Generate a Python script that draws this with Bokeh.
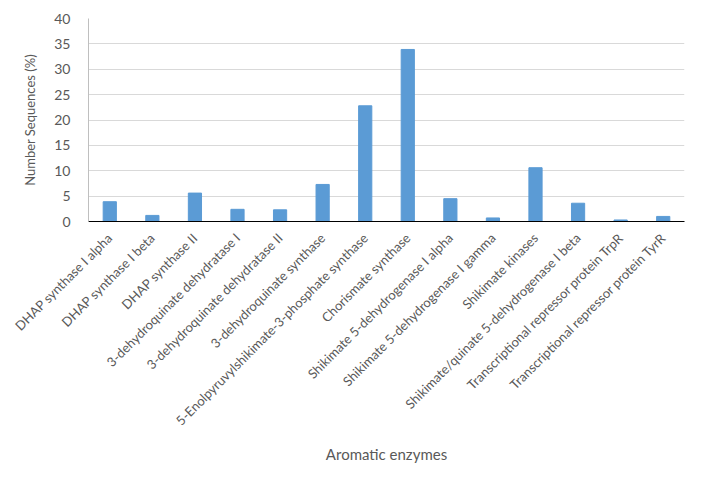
import math
from bokeh.plotting import figure
from bokeh.models import Range1d, FixedTicker
from bokeh.embed import file_html
from bokeh.resources import INLINE

enzymes = [
    "DHAP synthase I alpha",
    "DHAP synthase I beta",
    "DHAP synthase II",
    "3-dehydroquinate dehydratase I",
    "3-dehydroquinate dehydratase II",
    "3-dehydroquinate synthase",
    "5-Enolpyruvylshikimate-3-phosphate synthase",
    "Chorismate synthase",
    "Shikimate 5-dehydrogenase I alpha",
    "Shikimate 5-dehydrogenase I gamma",
    "Shikimate kinases",
    "Shikimate/quinate 5-dehydrogenase I beta",
    "Transcriptional repressor protein TrpR",
    "Transcriptional repressor protein TyrR",
]
percent = [3.9, 1.2, 5.6, 2.4, 2.3, 7.3, 22.8, 33.9, 4.5, 0.7, 10.6, 3.6, 0.3, 1.0]
y_ticks = [0, 5, 10, 15, 20, 25, 30, 35, 40]

FONT = "Lato"
GREY = "#595959"

p = figure(x_range=enzymes, y_range=Range1d(0, 40), width=695, height=475,
           output_backend="svg", toolbar_location=None,
           min_border_left=88, min_border_right=11, min_border_top=18, min_border_bottom=254)
p.vbar(x=enzymes, top=percent, width=0.31, color="#5B9BD5", line_color="#5B9BD5")

p.outline_line_color = None
p.xgrid.grid_line_color = None
p.ygrid.grid_line_color = "#D9D9D9"
p.ygrid.grid_line_width = 1
p.yaxis.ticker = FixedTicker(ticks=y_ticks)

p.yaxis.axis_line_color = "#BFBFBF"
p.yaxis.major_tick_line_color = None
p.yaxis.minor_tick_line_color = None
p.yaxis.major_label_text_font = FONT
p.yaxis.major_label_text_font_size = "14px"
p.yaxis.major_label_text_color = GREY
p.yaxis.major_label_standoff = 12
p.yaxis.axis_label = "Number Sequences (%)"
p.yaxis.axis_label_text_font = FONT
p.yaxis.axis_label_text_font_size = "13px"
p.yaxis.axis_label_text_font_style = "normal"
p.yaxis.axis_label_text_color = GREY
p.yaxis.axis_label_standoff = 13

p.xaxis.axis_line_color = "black"
p.xaxis.axis_line_width = 1
p.xaxis.major_tick_line_color = None
p.xaxis.minor_tick_line_color = None
p.xaxis.major_label_orientation = math.pi / 4
p.xaxis.major_label_text_font = FONT
p.xaxis.major_label_text_font_size = "13px"
p.xaxis.major_label_text_color = GREY
p.xaxis.major_label_standoff = 8
p.xaxis.axis_label = "Aromatic enzymes"
p.xaxis.axis_label_text_font = FONT
p.xaxis.axis_label_text_font_size = "15px"
p.xaxis.axis_label_text_font_style = "normal"
p.xaxis.axis_label_text_color = GREY
p.xaxis.axis_label_standoff = 8

open("out.html", "w").write(file_html(p, INLINE))
